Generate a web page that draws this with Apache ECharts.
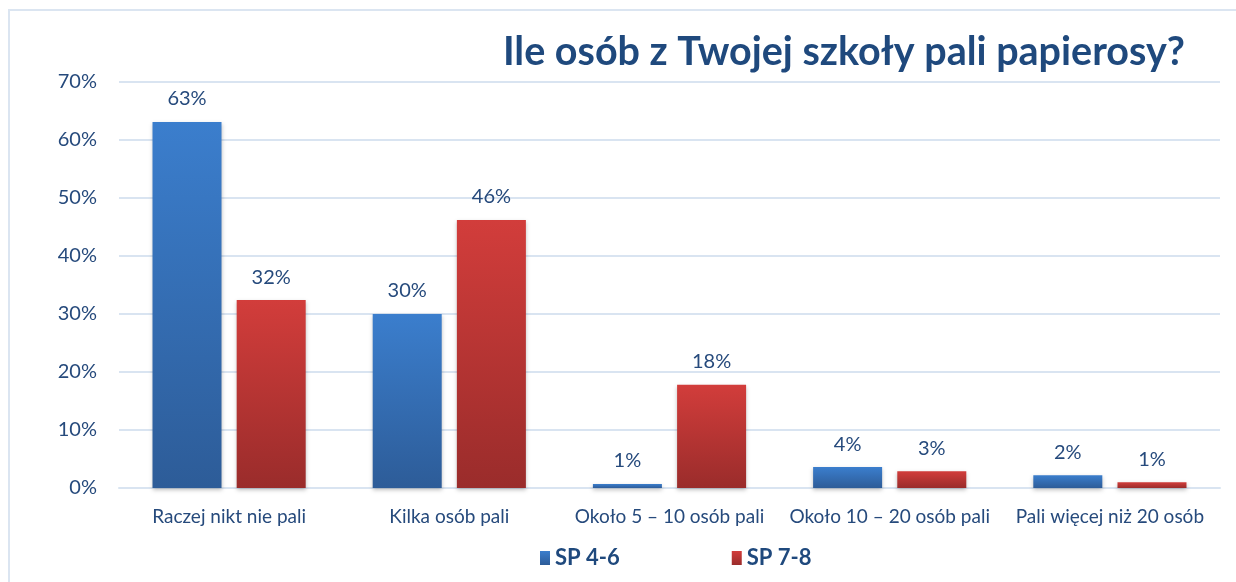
<!DOCTYPE html>
<html>
<head>
<meta charset="utf-8">
<script src="https://cdn.jsdelivr.net/npm/echarts@6/dist/echarts.min.js"></script>
<style>
  html, body { margin: 0; padding: 0; background: #fff; }
  #frame { position: absolute; left: 8px; top: 9px; width: 1240px; height: 590px;
           border: 2px solid #dbe5f1; box-sizing: border-box; }
  #main { position: absolute; left: 0; top: 0; width: 1236px; height: 582px; }
</style>
</head>
<body>
<div id="frame"></div>
<div id="main"></div>
<script>
// dane z wykresu
const categories = ['Raczej nikt nie pali', 'Kilka osób pali', 'Około 5 – 10 osób pali', 'Około 10 – 20 osób pali', 'Pali więcej niż 20 osób']
const sp46 = [63.1, 30.0, 0.7, 3.6, 2.2]
const sp78 = [32.4, 46.2, 17.8, 2.9, 1.0]
const yTicks = [0, 10, 20, 30, 40, 50, 60, 70]

const textColor = '#264a7c'
const font = 'Lato, "Open Sans", sans-serif'

function grad(top, bottom) {
  return new echarts.graphic.LinearGradient(0, 0, 0, 1, [
    { offset: 0, color: top },
    { offset: 1, color: bottom }
  ])
}

const blue = grad('#3b7ecd', '#2d5c98')
const red = grad('#d23d3b', '#9a2c2b')

const labelOpt = {
  show: true,
  position: 'top',
  distance: 13,
  color: textColor,
  fontFamily: font,
  fontSize: 20,
  formatter: p => Math.round(p.value) + '%'
}

const myChart = echarts.init(document.getElementById('main'))
myChart.setOption({
  title: {
    text: 'Ile osób z Twojej szkoły pali papierosy?',
    right: 46,
    top: 27,
    textStyle: { color: '#1f497d', fontFamily: font, fontWeight: 'bold', fontSize: 39.5 }
  },
  legend: {
    bottom: 8,
    left: 535,
    itemGap: 112,
    itemWidth: 10,
    itemHeight: 14,
    icon: 'rect',
    textStyle: { color: '#1f497d', fontFamily: font, fontWeight: 'bold', fontSize: 22 },
    data: ['SP 4-6', 'SP 7-8']
  },
  grid: { left: 119, right: 16, top: 82, bottom: 94, containLabel: false },
  xAxis: {
    type: 'category',
    data: categories,
    axisTick: { show: false },
    axisLine: { lineStyle: { color: '#d9e4f1', width: 2 } },
    axisLabel: { color: textColor, fontFamily: font, fontSize: 19, margin: 19, interval: 0 }
  },
  yAxis: {
    type: 'value',
    min: yTicks[0],
    max: yTicks[yTicks.length - 1],
    interval: 10,
    axisLabel: { color: textColor, fontFamily: font, fontSize: 20, margin: 22, formatter: '{value}%' },
    splitLine: { lineStyle: { color: '#d9e4f1', width: 2 } },
    axisLine: { show: false },
    axisTick: { show: false }
  },
  series: [
    {
      name: 'SP 4-6',
      type: 'bar',
      data: sp46,
      barWidth: 69,
      barGap: '22%',
      itemStyle: { color: blue, shadowColor: 'rgba(0,0,0,0.25)', shadowBlur: 4, shadowOffsetY: 2 },
      label: labelOpt
    },
    {
      name: 'SP 7-8',
      type: 'bar',
      data: sp78,
      barWidth: 69,
      itemStyle: { color: red, shadowColor: 'rgba(0,0,0,0.25)', shadowBlur: 4, shadowOffsetY: 2 },
      label: labelOpt
    }
  ]
})
</script>
</body>
</html>
